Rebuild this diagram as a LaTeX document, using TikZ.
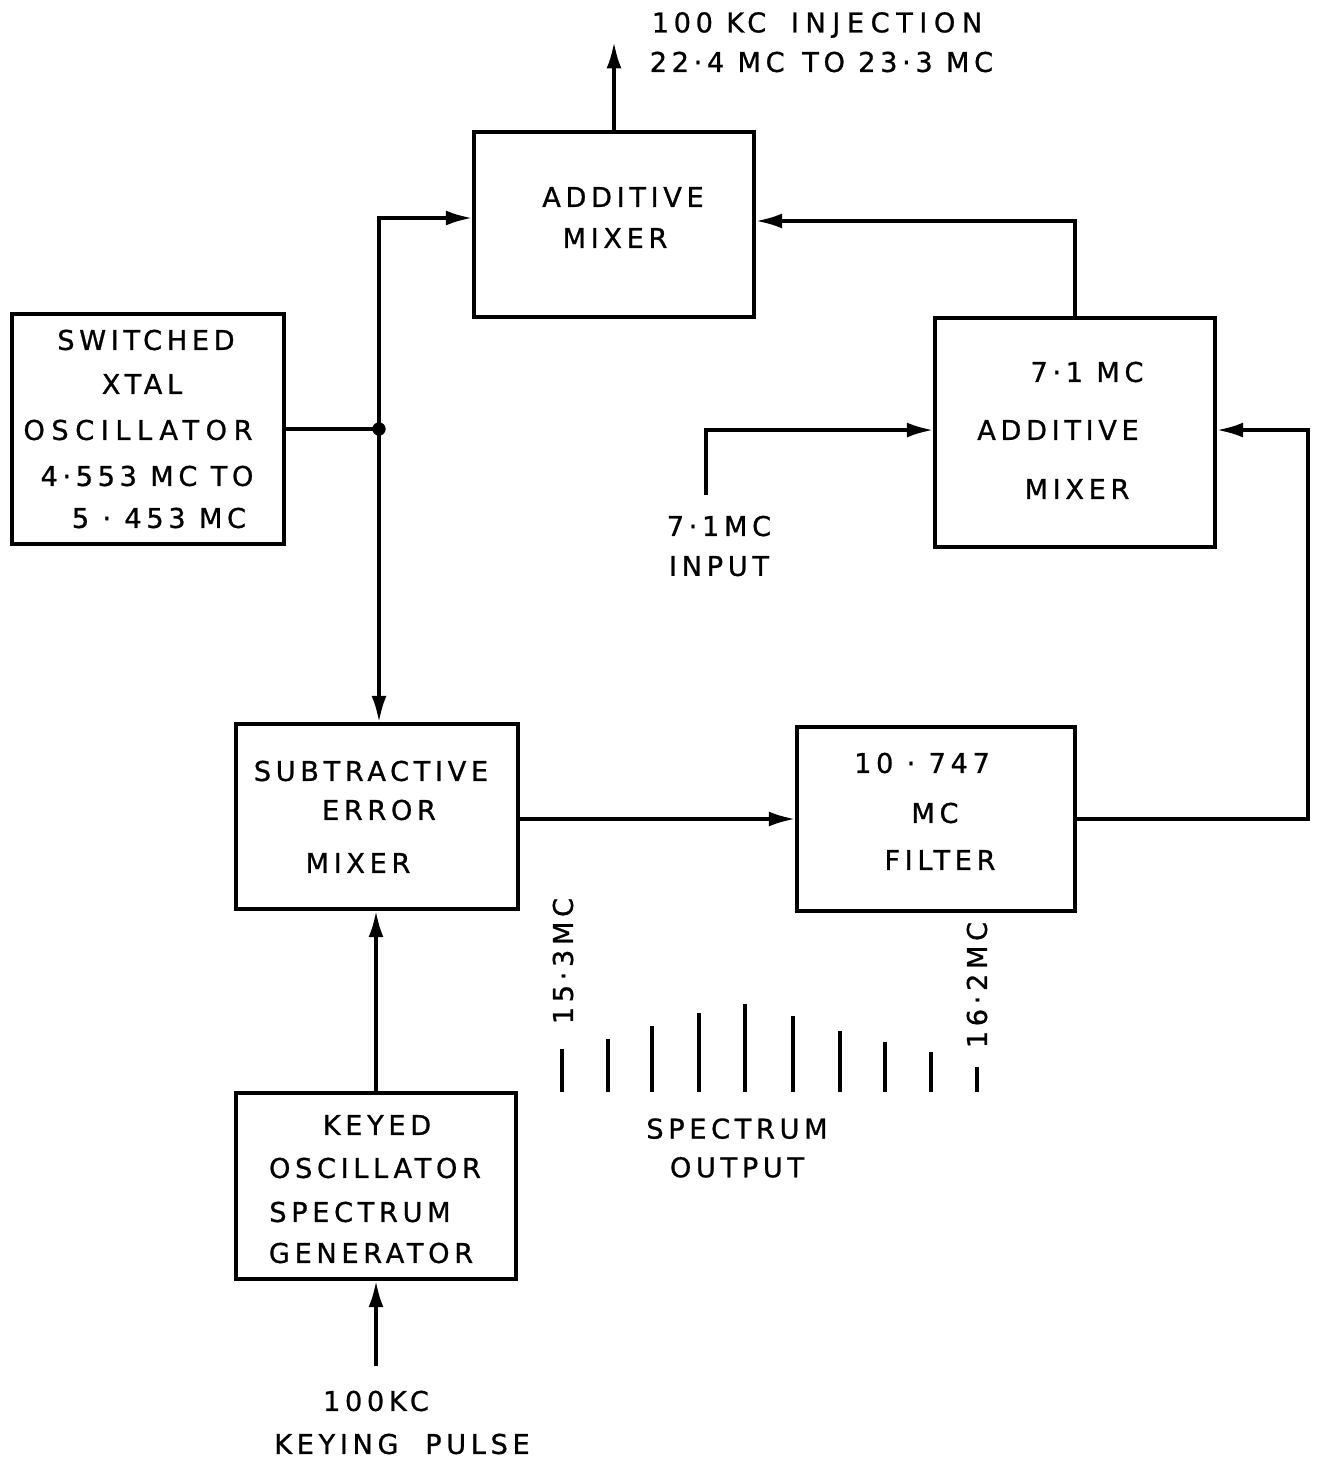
\documentclass[tikz,border=0pt]{standalone}
\usepackage{fontspec}
\setmainfont{DejaVu Sans}[LetterSpace=17,FakeBold=0.9]
\usetikzlibrary{arrows.meta}
\begin{document}
\begin{tikzpicture}[x=0.02cm,y=-0.02cm,line width=2pt,
  box/.style={draw,rectangle,inner sep=0pt},
  arr/.style={-{Latex[length=15pt,width=8.5pt]}},
  lbl/.style={align=center,inner sep=0pt,font=\fontsize{15.5}{22}\selectfont}]
\useasboundingbox (0,0) rectangle (1316,1460);
% boxes
\node[box,minimum width=5.6cm,minimum height=3.7cm] (am) at (614,224.5) {};
\node[box,minimum width=5.44cm,minimum height=4.6cm] (xo) at (148,429) {};
\node[box,minimum width=5.6cm,minimum height=4.58cm] (m71) at (1075,432.5) {};
\node[box,minimum width=5.64cm,minimum height=3.7cm] (sm) at (377,816.5) {};
\node[box,minimum width=5.56cm,minimum height=3.68cm] (fl) at (936,819) {};
\node[box,minimum width=5.6cm,minimum height=3.72cm] (ko) at (376,1186) {};
% box texts
\node[lbl] (am1) at (623,197) {ADDITIVE};
\node[lbl] (am2) at (615,238) {MIXER};
\node[lbl] (xo1) at (146,340) {SWITCHED};
\node[lbl] (xo2) at (142,384) {XTAL};
\node[lbl,font=\addfontfeature{LetterSpace=24}\fontsize{15.5}{22}\selectfont] (xo3) at (138,430) {OSCILLATOR};
\node[lbl] (xo4) at (147,476) {4·553 MC TO};
\node[lbl] (xo5) at (159,518) {5 · 453 MC};
\node[lbl] (m1) at (1087,372) {7·1 MC};
\node[lbl] (m2) at (1058,430) {ADDITIVE};
\node[lbl] (m3) at (1077,489) {MIXER};
\node[lbl] (s1) at (371,771) {SUBTRACTIVE};
\node[lbl] (s2) at (379,810) {ERROR};
\node[lbl] (s3) at (358,863) {MIXER};
\node[lbl] (f1l) at (922,763) {10 · 747};
\node[lbl] (f2l) at (935,813) {MC};
\node[lbl] (f3l) at (940,860) {FILTER};
\node[lbl] (k1) at (377,1125) {KEYED};
\node[lbl] (k2) at (375,1168) {OSCILLATOR};
\node[lbl] (k3) at (360,1212) {SPECTRUM};
\node[lbl] (k4) at (371,1253) {GENERATOR};
% connector points
\coordinate (J) at (379,429);
\coordinate (out) at (614,42);
\coordinate (in71) at (706,495);
\coordinate (rt) at (1308,820);
\coordinate (kp) at (376,1366);
% connectors
\draw (xo.east) -- (J);
\fill (J) circle[radius=3.8pt];
\draw[arr] (J) |- ([yshift=3.7pt]am.west);
\draw[arr] (J) -- (J |- sm.north);
\draw[arr] (am.north) -- (out);
\draw[arr] (m71.north) |- ([yshift=2pt]am.east);
\draw[arr] (in71) |- ([yshift=1.4pt]m71.west);
\draw[arr] (fl.east) -- (fl.east -| rt) |- ([yshift=1.4pt]m71.east);
\draw[arr] (fl.west -| sm.east) -- (fl.west);
\draw[arr] (ko.north) -- (ko.north |- sm.south);
\draw[arr] (kp) -- (kp |- ko.south);
% labels
\node[lbl,anchor=west] (inj1) at (650,25) {100 KC\hspace{14pt}\addfontfeature{LetterSpace=24}INJECTION};
\node[lbl,anchor=west] (inj2) at (648,62) {22·4 MC\hspace{10pt}TO 23·3 MC};
\node[lbl,font=\fontsize{15.5}{22.7}\selectfont] (inlbl) at (719,546) {7·1MC\\INPUT};
\node[lbl,font=\fontsize{15.5}{22}\selectfont] (spec) at (737,1148) {SPECTRUM\\OUTPUT};
\node[lbl] (kp1) at (376,1401) {100KC};
\node[lbl] (kp2) at (402,1444) {KEYING\ \ PULSE};
\node[lbl,rotate=90] (f1) at (563,961) {15·3MC};
\node[lbl,rotate=90] (f2) at (977,985) {16·2MC};
% spectrum lines
\foreach \x/\t in {562/1049,608/1039,652/1026,699/1013,745/1004,793/1016,840/1031,885/1042,931/1052,977/1067}
  \draw (\x,\t) -- (\x,1092);
\end{tikzpicture}
\end{document}
